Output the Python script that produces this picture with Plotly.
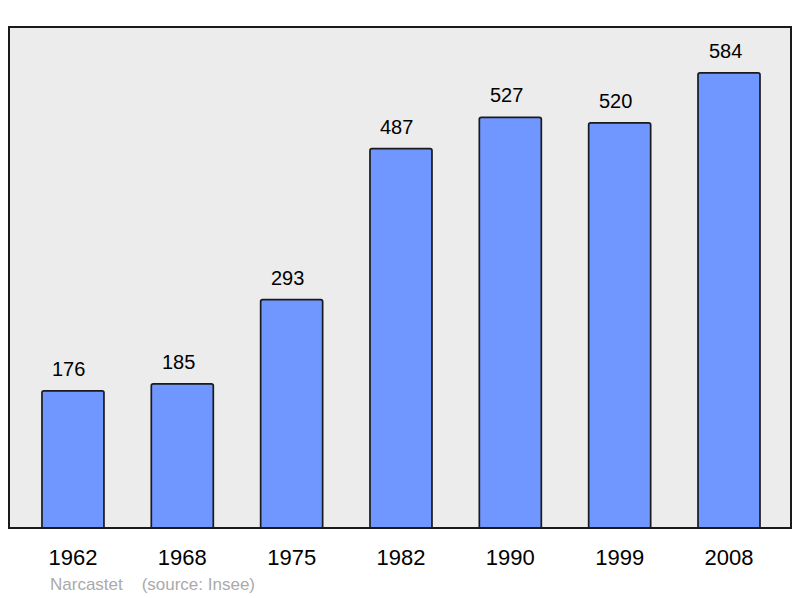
import plotly.graph_objects as go

years = ["1962", "1968", "1975", "1982", "1990", "1999", "2008"]
population = [176, 185, 293, 487, 527, 520, 584]
source_text = "Narcastet    (source: Insee)"

fig = go.Figure()
fig.add_trace(go.Bar(
    x=list(range(len(years))), y=population,
    width=0.567,
    marker=dict(color="#7096ff", line=dict(color="#1a1a1a", width=1.7), cornerradius=2),
    hoverinfo="skip",
))
for i, v in enumerate(population):
    fig.add_annotation(x=i, y=v, text=str(v), showarrow=False, yanchor="bottom",
                       yshift=9, xshift=-4, font=dict(size=20, color="#000000"))
fig.add_annotation(x=0.05, xref="paper", y=-0.112, yref="paper", text=source_text,
                   showarrow=False, xanchor="left", yanchor="middle",
                   font=dict(size=17, color="#aaaaaa"))
fig.add_shape(type="rect", xref="paper", yref="paper", x0=0, x1=1, y0=0, y1=1,
              line=dict(color="#1a1a1a", width=2), layer="above")
fig.update_layout(
    width=792, height=590,
    margin=dict(l=1, r=9, t=19, b=70),
    paper_bgcolor="#ffffff", plot_bgcolor="#ececec",
    font=dict(family="Liberation Sans, Arial, sans-serif"),
    showlegend=False,
    xaxis=dict(range=[-0.585, 6.567], tickmode="array", tickvals=list(range(len(years))),
               ticktext=years, showgrid=False, zeroline=False, ticks="outside",
               ticklen=10, tickcolor="rgba(0,0,0,0)", tickfont=dict(size=22, color="#000000")),
    yaxis=dict(range=[0, 643], showgrid=False, zeroline=False, showticklabels=False),
)
fig.write_html("out.html")
